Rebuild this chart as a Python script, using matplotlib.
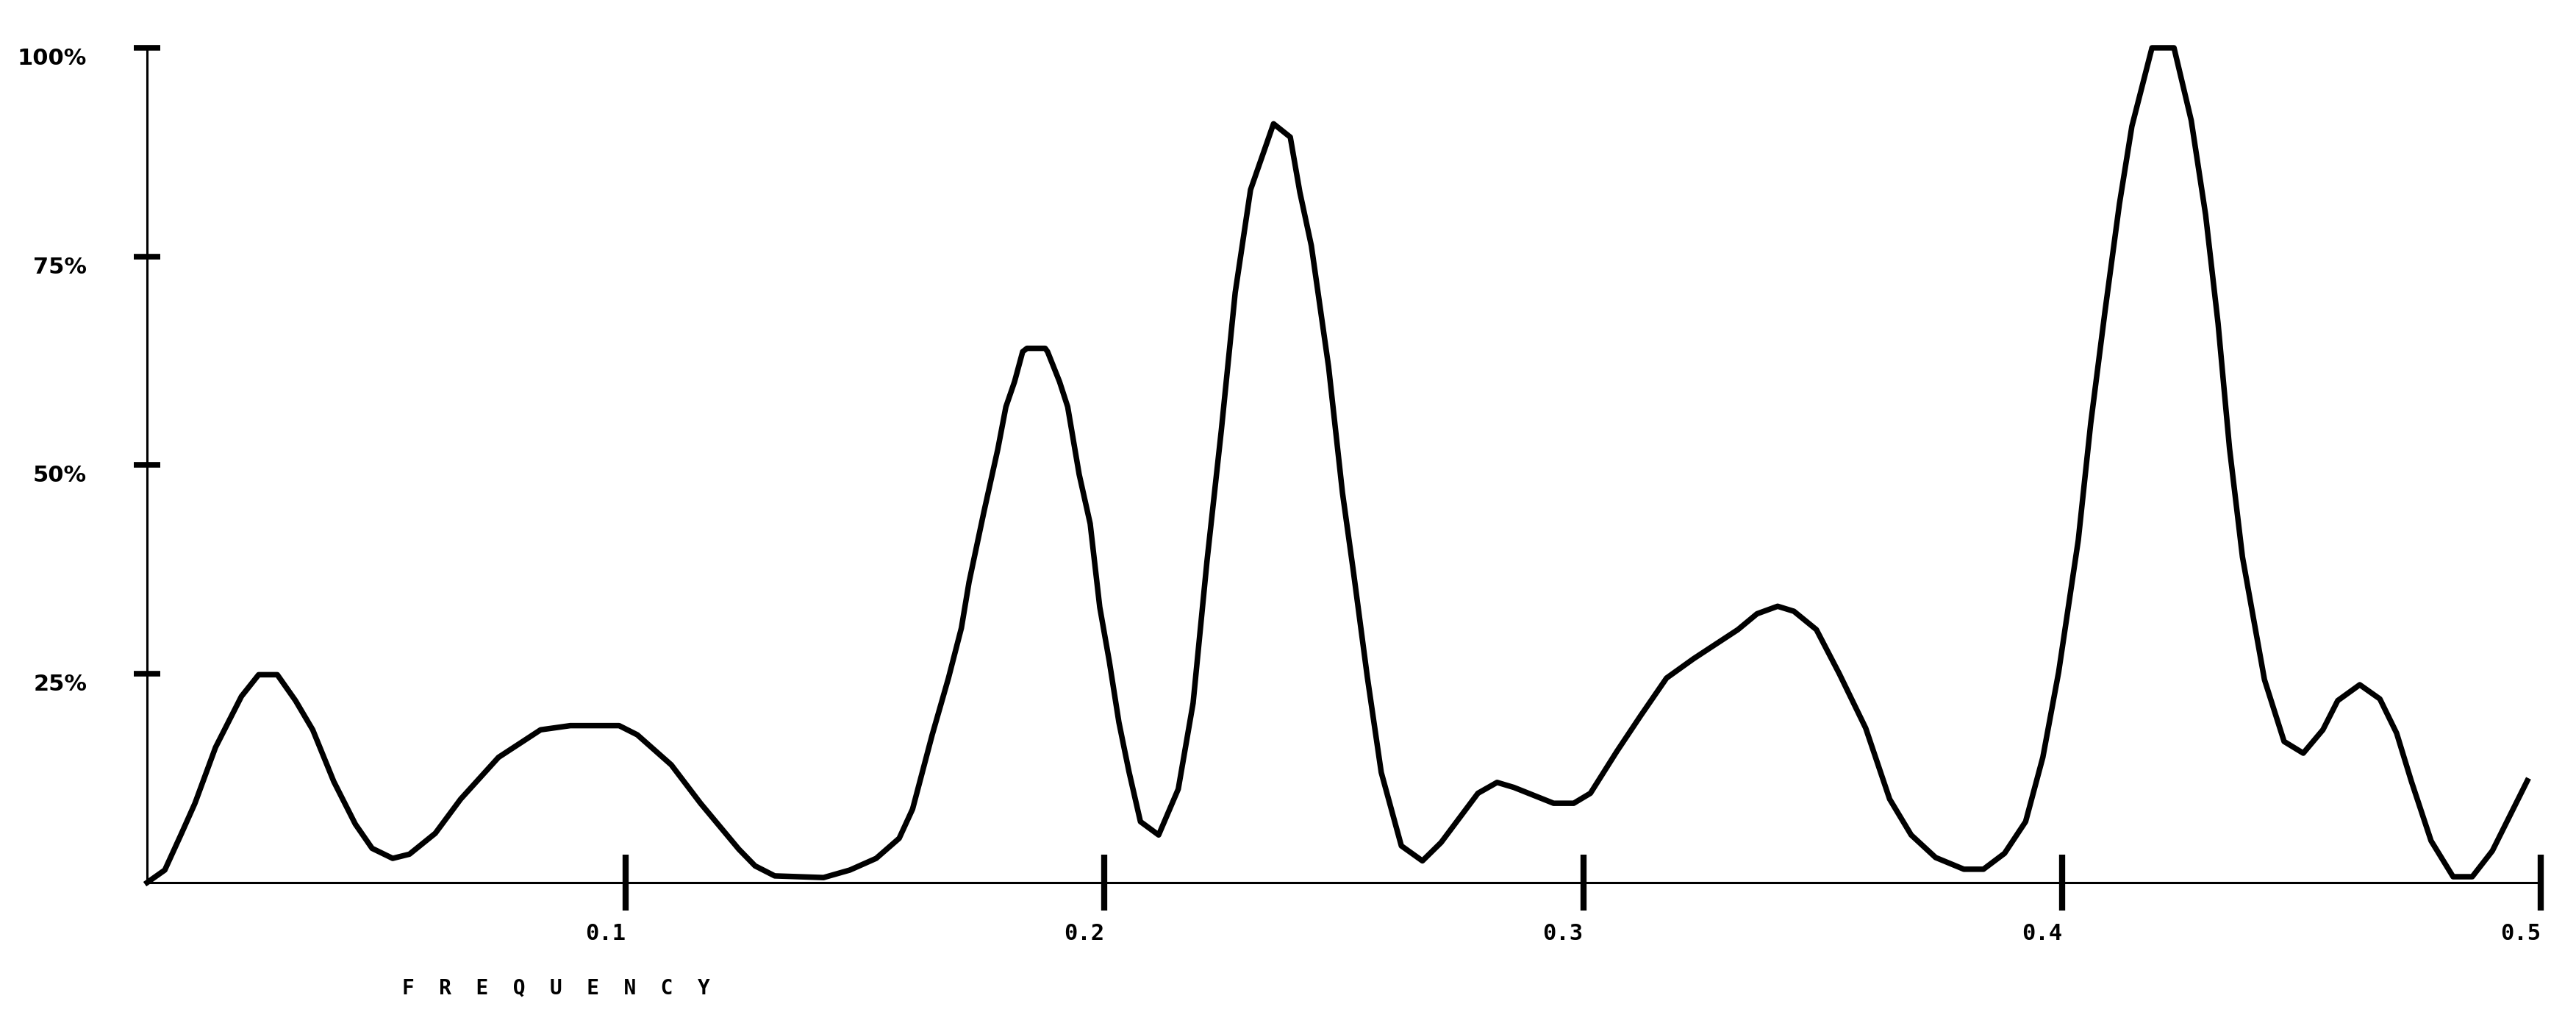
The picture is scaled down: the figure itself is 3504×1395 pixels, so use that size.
"""Periodogram style line chart: relative power against frequency."""

# 3rd party imports.
import matplotlib
matplotlib.use("Agg")
from matplotlib import pyplot as plt

# Curve vertices (frequency, percent of the highest peak).
frequency = [0.0000, 0.0037, 0.0072, 0.0100, 0.0143, 0.0197, 0.0233, 0.0272, 0.0310, 0.0346,
             0.0390, 0.0435, 0.0470, 0.0513, 0.0548, 0.0602, 0.0655, 0.0734, 0.0822, 0.0884,
             0.0986, 0.1024, 0.1095, 0.1156, 0.1236, 0.1270, 0.1311, 0.1413, 0.1468, 0.1523,
             0.1571, 0.1599, 0.1640, 0.1674, 0.1701, 0.1717, 0.1748, 0.1777, 0.1794, 0.1812,
             0.1829, 0.1838, 0.1876, 0.1881, 0.1906, 0.1923, 0.1947, 0.1970, 0.1990, 0.2010,
             0.2030, 0.2051, 0.2075, 0.2113, 0.2154, 0.2185, 0.2214, 0.2244, 0.2273, 0.2305,
             0.2353, 0.2388, 0.2408, 0.2432, 0.2468, 0.2497, 0.2520, 0.2549, 0.2578, 0.2620,
             0.2664, 0.2703, 0.2780, 0.2820, 0.2855, 0.2938, 0.2980, 0.3015, 0.3070, 0.3120,
             0.3174, 0.3230, 0.3323, 0.3363, 0.3406, 0.3440, 0.3487, 0.3535, 0.3590, 0.3640,
             0.3685, 0.3736, 0.3795, 0.3836, 0.3880, 0.3924, 0.3960, 0.3993, 0.4034, 0.4060,
             0.4090, 0.4120, 0.4146, 0.4188, 0.4234, 0.4270, 0.4300, 0.4326, 0.4350, 0.4377,
             0.4423, 0.4464, 0.4504, 0.4545, 0.4576, 0.4622, 0.4664, 0.4699, 0.4730, 0.4771,
             0.4817, 0.4857, 0.4899, 0.4972]
power = [0.0, 1.5, 5.9, 9.5, 16.2, 22.3, 24.9, 24.9, 21.8, 18.3,
         12.1, 7.0, 4.1, 2.9, 3.4, 5.9, 10.0, 15.0, 18.3, 18.8,
         18.8, 17.7, 14.1, 9.5, 4.0, 2.0, 0.8, 0.6, 1.5, 2.9,
         5.3, 8.8, 17.7, 24.5, 30.5, 36.0, 44.4, 51.9, 57.0, 60.0,
         63.6, 64.0, 64.0, 63.6, 60.0, 57.0, 48.9, 43.0, 33.0, 26.5,
         19.2, 13.3, 7.3, 5.7, 11.2, 21.5, 38.5, 54.2, 70.7, 83.0,
         90.9, 89.3, 82.7, 76.3, 61.8, 46.7, 37.2, 24.6, 13.2, 4.4,
         2.6, 4.8, 10.7, 12.0, 11.4, 9.5, 9.5, 10.7, 15.7, 20.0,
         24.5, 26.8, 30.3, 32.2, 33.1, 32.5, 30.3, 25.0, 18.5, 10.0,
         5.7, 3.0, 1.6, 1.6, 3.5, 7.3, 15.0, 25.2, 41.0, 55.0,
         68.5, 81.3, 90.6, 100.0, 100.0, 91.3, 80.0, 67.0, 52.0, 39.0,
         24.3, 16.9, 15.5, 18.3, 21.8, 23.7, 22.0, 17.9, 12.1, 5.0,
         0.7, 0.7, 3.8, 12.2]

# Axis ticks and their labels.
xTicks = [0.1, 0.2, 0.3, 0.4, 0.5]
xTickLabels = ["0.1", "0.2", "0.3", "0.4", "0.5"]
yTicks = [25, 50, 75, 100]
yTickLabels = ["25%", "50%", "75%", "100%"]
xLabel = "F  R  E  Q  U  E  N  C  Y"

# Figure of 3504x1395 pixels.
fig = plt.figure(figsize=(35.04, 13.95), dpi=100, facecolor="white")
ax = fig.add_axes([0.0571, 0.1398, 0.9292, 0.8136])

ax.plot(frequency, power, color="black", linewidth=5.4, solid_joinstyle="round", clip_on=False)

ax.set_xlim(0, 0.5)
ax.set_ylim(0, 100)

# Only the left and bottom axis lines are drawn.
for side in ("top", "right"):
    ax.spines[side].set_visible(False)
for side in ("left", "bottom"):
    ax.spines[side].set_linewidth(2.2)
    ax.spines[side].set_color("black")

ax.set_xticks(xTicks)
ax.set_xticklabels(xTickLabels, family="DejaVu Sans Mono", fontweight="bold", fontsize=22, ha="right")
ax.set_yticks(yTicks)
ax.set_yticklabels(yTickLabels, family="DejaVu Sans", fontweight="bold", fontsize=22, va="top")

ax.tick_params(axis="x", direction="inout", length=55, width=6, pad=12, colors="black")
ax.tick_params(axis="y", direction="inout", length=26, width=5.5, pad=46, colors="black")

# Spaced-out axis title below the tick labels.
ax.set_xlabel(xLabel, family="DejaVu Sans Mono", fontweight="bold", fontsize=20, ha="left", va="center")
ax.xaxis.set_label_coords(0.1066, -0.126)

fig.savefig("out.png", dpi=100, facecolor="white")
